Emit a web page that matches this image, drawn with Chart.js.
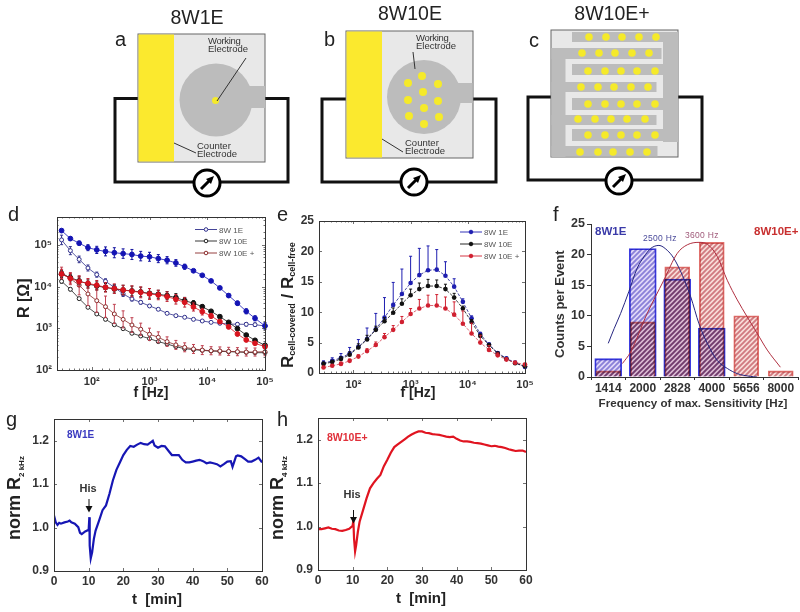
<!DOCTYPE html>
<html>
<head>
<meta charset="utf-8">
<script src="https://cdn.jsdelivr.net/npm/chart.js@4"></script>
<style>
    html, body { margin: 0; padding: 0; background: #fff; }
    #page { position: relative; width: 800px; height: 612px; overflow: hidden; filter: blur(0.3px); }
    #page canvas { position: absolute; }
    #overlay { position: absolute; left: 0; top: 0; pointer-events: none; font-family: "Liberation Sans", Arial, sans-serif; }
</style>
</head>
<body>
<div id="page">
    <canvas id="chartD"></canvas>
    <canvas id="chartE"></canvas>
    <canvas id="chartF"></canvas>
    <canvas id="chartG"></canvas>
    <canvas id="chartH"></canvas>
    <svg id="overlay" width="800" height="612" viewBox="0 0 800 612">
        <defs>
            <g id="meter">
                <circle r="13" fill="#fff" stroke="#000" stroke-width="3"/>
                <line x1="-6" y1="6" x2="3" y2="-3" stroke="#000" stroke-width="3"/>
                <path d="M7,-7 L-1,-4 L4,1 Z" fill="#000"/>
            </g>
        </defs>

        <!-- electrode a -->
        <text x="197" y="24" font-size="19.5" text-anchor="middle" fill="#222">8W1E</text>
        <text x="115" y="46" font-size="20" fill="#222">a</text>
        <path d="M138,98.5 H115 V182 H288 V98.5 H265" fill="none" stroke="#111" stroke-width="3"/>
        <rect x="138" y="34" width="127" height="128" fill="#e8e8e8" stroke="#666"/>
        <rect x="138.5" y="34.5" width="35.5" height="127" fill="#fbe92e"/>
        <circle cx="216" cy="100" r="36.5" fill="#bcbcbc"/>
        <rect x="249" y="86" width="16" height="22" fill="#bcbcbc"/>
        <circle cx="215.5" cy="100.5" r="3.5" fill="#f5ea2a"/>
        <line x1="246" y1="58" x2="217" y2="101" stroke="#333"/>
        <line x1="174" y1="143" x2="196" y2="153" stroke="#333"/>
        <text x="208" y="44" font-size="9.5" fill="#333" letter-spacing="-0.3">Working</text>
        <text x="208" y="52" font-size="9.5" fill="#333">Electrode</text>
        <text x="197" y="149" font-size="9.5" fill="#333">Counter</text>
        <text x="197" y="157" font-size="9.5" fill="#333">Electrode</text>
        <use href="#meter" x="207" y="183"/>

        <!-- electrode b -->
        <text x="410" y="20" font-size="19.5" text-anchor="middle" fill="#222">8W10E</text>
        <text x="324" y="46" font-size="20" fill="#222">b</text>
        <path d="M346,99 H322 V182 H496 V99 H473" fill="none" stroke="#111" stroke-width="3"/>
        <rect x="346" y="31" width="127" height="127" fill="#e8e8e8" stroke="#666"/>
        <rect x="346.5" y="31.5" width="35.5" height="126" fill="#fbe92e"/>
        <circle cx="424" cy="97" r="37" fill="#bcbcbc"/>
        <rect x="456" y="83" width="16.5" height="20" fill="#bcbcbc"/>
        <g id="dotsB" fill="#f5ea2a"></g>
        <line x1="413" y1="52" x2="415" y2="69" stroke="#333"/>
        <line x1="382" y1="139" x2="403" y2="152" stroke="#333"/>
        <text x="416" y="41" font-size="9.5" fill="#333" letter-spacing="-0.3">Working</text>
        <text x="416" y="49" font-size="9.5" fill="#333">Electrode</text>
        <text x="405" y="146" font-size="9.5" fill="#333">Counter</text>
        <text x="405" y="154" font-size="9.5" fill="#333">Electrode</text>
        <use href="#meter" x="414" y="182"/>

        <!-- electrode c -->
        <text x="612" y="20" font-size="19.5" text-anchor="middle" fill="#222">8W10E+</text>
        <text x="529" y="47" font-size="20" fill="#222">c</text>
        <path d="M551,97 H528 V180 H702 V97 H678" fill="none" stroke="#111" stroke-width="3"/>
        <rect x="551" y="30" width="127" height="127" fill="#e8e8e8" stroke="#666"/>
        <g id="combC" fill="#bcbcbc"></g>
        <g id="dotsC" fill="#f5ea2a"></g>
        <use href="#meter" x="619" y="181"/>

        <!-- panel letters and axis titles -->
        <text x="8" y="221" font-size="20" fill="#222">d</text>
        <text x="277" y="221" font-size="20" fill="#222">e</text>
        <text x="553" y="221" font-size="20" fill="#222">f</text>
        <text x="6" y="426" font-size="20" fill="#222">g</text>
        <text x="277" y="426" font-size="20" fill="#222">h</text>

        <text transform="translate(29,318) rotate(-90)" font-size="16" font-weight="bold" fill="#222">R [Ω]</text>
        <text x="151" y="397" font-size="14" font-weight="bold" text-anchor="middle" fill="#222">f [Hz]</text>
        <text transform="translate(293,368) rotate(-90)" font-size="17" font-weight="bold" fill="#222">R<tspan font-size="9" dy="2">cell-covered</tspan><tspan font-size="17" dy="-2"> / R</tspan><tspan font-size="9" dy="2">cell-free</tspan></text>
        <text x="418" y="397" font-size="14" font-weight="bold" text-anchor="middle" fill="#222">f [Hz]</text>
        <text transform="translate(564,358) rotate(-90)" font-size="13" font-weight="bold" fill="#333">Counts per Event</text>
        <text x="693" y="407" font-size="11.6" font-weight="bold" text-anchor="middle" fill="#333">Frequency of max. Sensitivity [Hz]</text>
        <text transform="translate(20,540) rotate(-90)" font-size="18" font-weight="bold" fill="#222">norm R<tspan font-size="8" dy="4">2 kHz</tspan></text>
        <text x="157" y="604" font-size="15" font-weight="bold" text-anchor="middle" fill="#222" xml:space="preserve">t  [min]</text>
        <text transform="translate(283,540) rotate(-90)" font-size="18" font-weight="bold" fill="#222">norm R<tspan font-size="8" dy="4">4 kHz</tspan></text>
        <text x="421" y="603" font-size="15" font-weight="bold" text-anchor="middle" fill="#222" xml:space="preserve">t  [min]</text>

        <!-- legends -->
        <g id="legendD" font-size="8" fill="#555"></g>
        <g id="legendE" font-size="8" fill="#555"></g>

        <!-- annotations -->
        <text x="595" y="235" font-size="11.5" font-weight="bold" fill="#3a3aa8">8W1E</text>
        <text x="754" y="235" font-size="11.5" font-weight="bold" fill="#c83030">8W10E+</text>
        <text x="643" y="241" font-size="8.5" fill="#4a4a9a" letter-spacing="0.3">2500 Hz</text>
        <text x="685" y="238" font-size="8.5" fill="#a05a7a" letter-spacing="0.3">3600 Hz</text>
        <text x="67" y="438" font-size="10" font-weight="bold" fill="#3a3ac0">8W1E</text>
        <text x="327" y="441" font-size="10.5" font-weight="bold" fill="#e0303a">8W10E+</text>
        <text x="88" y="492" font-size="11" font-weight="bold" text-anchor="middle" fill="#333">His</text>
        <path d="M89,499 V508" stroke="#111" stroke-width="1"/>
        <path d="M85.5,506 H92.5 L89,512.5 Z" fill="#111"/>
        <text x="352" y="498" font-size="11" font-weight="bold" text-anchor="middle" fill="#333">His</text>
        <path d="M353.5,510 V519" stroke="#111" stroke-width="1"/>
        <path d="M350,517 H357 L353.5,523.5 Z" fill="#111"/>
    </svg>
</div>

<script>
// frequency grid shared by panels d and e
const freqs = [30, 42.6, 60.5, 85.9, 122, 173, 246, 349, 496, 704, 1000, 1420, 2016, 2863, 4065, 5772, 8196, 11640, 16530, 23470, 33320, 47320, 67190, 100000];

// panel d: R [ohm], filled = cell-covered, open = cell-free
const rBlueFilled = [221000, 142000, 110000, 86000, 76000, 70000, 65000, 62000, 59000, 54000, 52000, 47000, 43000, 37000, 30000, 24000, 18700, 13700, 9300, 6100, 4000, 2560, 1740, 1140];
const rBlueOpen = [132000, 73000, 45000, 28000, 19400, 13400, 9600, 6700, 5060, 4200, 3440, 2860, 2290, 2010, 1840, 1640, 1500, 1390, 1320, 1270, 1250, 1250, 1220, 1140];
const rBlackFilled = [20000, 16400, 13700, 11600, 10400, 9500, 8800, 8300, 7900, 7450, 6900, 6550, 6080, 5450, 4600, 4000, 3300, 2560, 1900, 1390, 980, 690, 515, 390];
const rBlackOpen = [13400, 8630, 5150, 3190, 2210, 1640, 1220, 980, 760, 655, 565, 480, 420, 363, 325, 308, 296, 286, 280, 275, 270, 265, 260, 260];
const rRedFilled = [20000, 15800, 13200, 12000, 10800, 9640, 8950, 8300, 7730, 7300, 6670, 6300, 5750, 4960, 4200, 3250, 2510, 1980, 1450, 1080, 730, 525, 437, 363];
const rRedOpen = [21700, 15600, 10800, 6670, 4600, 3300, 2210, 1640, 1200, 950, 720, 610, 480, 400, 350, 320, 300, 290, 286, 280, 275, 270, 270, 275];

// multiplicative error factors for panel d
const errBlueFilled = [1.08, 1.1, 1.12, 1.18, 1.22, 1.28, 1.32, 1.3, 1.32, 1.3, 1.28, 1.25, 1.22, 1.2, 1.15, 1.08, 1.05, 1.05, 1.05, 1.1, 1.12, 1.15, 1.15, 1.2];
const errBlueOpen = [1.3, 1.25, 1.2, 1.18, 1.15, 1.15, 1.15, 1.15, 1.12, 1.1, 1.08, 1.06, 1.05, 1.05, 1.05, 1.05, 1.05, 1.05, 1.05, 1.08, 1.1, 1.1, 1.1, 1.1];
const errBlackFilled = [1.2, 1.2, 1.25, 1.25, 1.25, 1.25, 1.25, 1.3, 1.3, 1.3, 1.3, 1.25, 1.25, 1.25, 1.2, 1.15, 1.1, 1.05, 1.05, 1.05, 1.05, 1.05, 1.05, 1.05];
const errBlackOpen = [1.1, 1.08, 1.06, 1.05, 1.05, 1.05, 1.05, 1.05, 1.05, 1.05, 1.05, 1.05, 1.05, 1.05, 1.05, 1.05, 1.05, 1.05, 1.05, 1.05, 1.05, 1.05, 1.05, 1.05];
const errRedFilled = [1.3, 1.3, 1.3, 1.3, 1.3, 1.3, 1.3, 1.3, 1.35, 1.35, 1.35, 1.3, 1.3, 1.3, 1.3, 1.25, 1.2, 1.15, 1.12, 1.1, 1.1, 1.08, 1.08, 1.08];
const errRedOpen = [1.35, 1.4, 1.7, 1.9, 1.9, 1.8, 1.7, 1.6, 1.5, 1.4, 1.4, 1.35, 1.3, 1.28, 1.28, 1.28, 1.28, 1.25, 1.25, 1.25, 1.25, 1.25, 1.25, 1.25];

// panel e: ratio of cell-covered to cell-free
const ratioBlue = [1.6, 2.0, 2.5, 3.2, 4.3, 5.6, 7.2, 9.1, 11.2, 13.0, 14.8, 16.1, 16.9, 17.0, 16.0, 14.2, 11.7, 9.0, 6.4, 4.7, 3.3, 2.4, 1.7, 1.0];
const ratioBlack = [1.5, 1.8, 2.3, 3.0, 4.2, 5.5, 7.1, 8.5, 9.9, 11.4, 12.8, 13.8, 14.3, 14.3, 13.8, 12.4, 10.6, 8.4, 6.1, 4.6, 3.2, 2.3, 1.6, 1.1];
const ratioRed = [0.9, 1.2, 1.5, 2.0, 2.7, 3.6, 4.6, 5.9, 7.1, 8.4, 9.7, 10.6, 11.1, 11.1, 10.6, 9.6, 8.1, 6.5, 5.0, 3.8, 2.9, 2.2, 1.7, 1.4];
const ratioErrBlue = [0.4, 0.5, 0.7, 1.0, 1.2, 1.8, 2.6, 3.3, 3.7, 4.1, 4.4, 4.4, 4.0, 3.3, 2.3, 1.3, 0.5, 0.4, 0.3, 0.2, 0.2, 0.2, 0.2, 0.2];
const ratioErrBlack = [0.3, 0.3, 0.4, 0.5, 0.6, 0.7, 0.6, 0.6, 0.8, 0.8, 1.0, 1.0, 1.1, 1.0, 0.8, 0.7, 0.4, 0.4, 0.3, 0.2, 0.2, 0.2, 0.2, 0.2];
const ratioErrRed = [0.2, 0.2, 0.3, 0.3, 0.3, 0.4, 0.5, 0.6, 0.7, 0.9, 0.9, 1.5, 1.7, 1.8, 1.9, 2.1, 2.1, 1.7, 1.2, 0.7, 0.4, 0.3, 0.2, 0.2];

// panel f: histogram and fitted curves (x in category positions)
const binLabels = ["1414", "2000", "2828", "4000", "5656", "8000"];
const countsBlue = [3, 21, 16, 8, 0, 0];
const countsRed = [1, 9, 18, 22, 10, 1];
const fitBlueX = [0, 0.17, 0.36, 0.6, 0.84, 1.03, 1.23, 1.47, 1.71, 1.9, 2.15, 2.39, 2.63, 2.87, 3.16, 3.45, 3.74, 4.12, 4.31];
const fitBlueY = [5.5, 7.9, 10.4, 14, 17.8, 19.6, 21, 21.5, 20.7, 19.4, 16.6, 13.1, 8.7, 5.5, 2.7, 1.4, 0.55, 0.1, 0];
const fitRedX = [0.41, 0.65, 1.13, 1.61, 2.0, 2.29, 2.63, 2.87, 3.16, 3.45, 3.74, 4.03, 4.32, 4.61, 4.99];
const fitRedY = [2.2, 4.1, 10.4, 15.8, 20.2, 21.6, 22, 21.7, 19.7, 15.8, 12.6, 9.8, 7.1, 4.4, 1.6];

// panel g: norm R at 2 kHz
const timeG = [0, 0.5, 1, 1.5, 2, 3, 4, 4.5, 5, 6, 7, 7.5, 8, 9, 10, 10.2, 10.3, 10.6, 11, 11.5, 12, 13, 14, 15, 16, 17, 18, 19, 20, 21, 22, 23, 24, 25, 26, 27, 28, 28.5, 29, 30, 31, 32, 33, 34, 35, 36, 37, 38, 39, 40, 41, 42, 43, 44, 45, 46, 47, 48, 49, 50, 51, 51.5, 52, 52.5, 53, 54, 55, 56, 57, 58, 59, 60];
const normG = [1.028, 1.012, 1.006, 1.011, 1.009, 1.012, 1.014, 1.016, 1.012, 1.009, 1.001, 0.988, 0.985, 0.991, 0.995, 1.024, 0.958, 0.929, 0.943, 0.974, 0.993, 1.016, 1.04, 1.051, 1.078, 1.109, 1.133, 1.15, 1.167, 1.179, 1.188, 1.186, 1.191, 1.195, 1.192, 1.191, 1.197, 1.2, 1.189, 1.184, 1.188, 1.187, 1.177, 1.167, 1.167, 1.167, 1.156, 1.15, 1.15, 1.152, 1.154, 1.156, 1.153, 1.148, 1.15, 1.148, 1.146, 1.141, 1.146, 1.152, 1.153, 1.14, 1.152, 1.164, 1.166, 1.164, 1.158, 1.152, 1.152, 1.156, 1.161, 1.15];

// panel h: norm R at 4 kHz
const timeH = [0, 1, 2, 3, 4, 5, 6, 7, 8, 9, 10, 10.2, 10.4, 10.7, 11, 11.5, 12, 13, 14, 15, 16, 17, 18, 19, 20, 21, 22, 23, 24, 25, 26, 27, 28, 29, 30, 31, 32, 33, 34, 35, 36, 37, 38, 39, 40, 41, 42, 43, 44, 45, 46, 47, 48, 49, 50, 51, 52, 53, 54, 55, 56, 57, 58, 59, 60];
const normH = [0.994, 0.994, 0.996, 0.998, 0.995, 0.994, 0.991, 0.99, 0.992, 0.995, 1.002, 1.015, 0.972, 0.943, 0.957, 0.988, 1.011, 1.038, 1.065, 1.088, 1.1, 1.11, 1.119, 1.139, 1.154, 1.17, 1.183, 1.189, 1.195, 1.201, 1.207, 1.212, 1.216, 1.219, 1.219, 1.216, 1.215, 1.213, 1.212, 1.211, 1.209, 1.207, 1.206, 1.207, 1.202, 1.198, 1.196, 1.196, 1.195, 1.193, 1.192, 1.191, 1.189, 1.187, 1.185, 1.186, 1.184, 1.183, 1.181, 1.178, 1.176, 1.174, 1.175, 1.175, 1.172];

const tickFont = { family: "'Liberation Sans', Arial, sans-serif", size: 11, weight: "bold" };
const tickColor = "#333";

function toPoints(xs, ys) {
    return xs.map((x, i) => ({ x: x, y: ys[i] }));
}

function logLabel(value) {
    const labels = { 100: "10²", 1000: "10³", 10000: "10⁴", 100000: "10⁵" };
    return labels[value] || "";
}

// places a chart so its plot area lands exactly on box (page pixels)
function makeChart(id, box, config) {
    const ml = 44, mr = 16, mt = 10, mb = 26;
    const canvas = document.getElementById(id);
    canvas.width = box.r - box.l + ml + mr;
    canvas.height = box.b - box.t + mt + mb;
    canvas.style.left = (box.l - ml) + "px";
    canvas.style.top = (box.t - mt) + "px";

    config.options.responsive = false;
    config.options.animation = false;
    config.options.layout = { padding: { left: 0, right: mr, top: mt, bottom: 0 } };
    config.options.plugins = Object.assign({ legend: { display: false }, tooltip: { enabled: false } }, config.options.plugins);

    Object.values(config.options.scales).forEach(scale => {
        if (scale.display === false) return;
        scale.afterFit = s => {
            s.paddingLeft = s.paddingRight = s.paddingTop = s.paddingBottom = 0;
            if (s.axis === "y") s.width = ml;
            if (s.axis === "x") s.height = mb;
        };
    });
    return new Chart(canvas, config);
}

// frame and short inward ticks on all four sides
const frameTicks = {
    id: "frameTicks",
    afterDraw(chart) {
        const ctx = chart.ctx;
        const a = chart.chartArea;
        ctx.save();
        ctx.strokeStyle = "#333";
        ctx.lineWidth = 1;
        ctx.strokeRect(a.left + 0.5, a.top + 0.5, a.right - a.left, a.bottom - a.top);
        ctx.lineWidth = 0.7;
        const isMajor = (scale, v) => scale.type === "logarithmic" ? Number.isInteger(Math.log10(v)) : true;
        chart.scales.x.ticks.forEach(t => {
            const px = Math.round(chart.scales.x.getPixelForValue(t.value)) + 0.5;
            const len = isMajor(chart.scales.x, t.value) ? 3 : 1.5;
            ctx.beginPath();
            ctx.moveTo(px, a.bottom); ctx.lineTo(px, a.bottom - len);
            ctx.moveTo(px, a.top); ctx.lineTo(px, a.top + len);
            ctx.stroke();
        });
        chart.scales.y.ticks.forEach(t => {
            const py = Math.round(chart.scales.y.getPixelForValue(t.value)) + 0.5;
            const len = isMajor(chart.scales.y, t.value) ? 3 : 1.5;
            ctx.beginPath();
            ctx.moveTo(a.left, py); ctx.lineTo(a.left + len, py);
            ctx.moveTo(a.right, py); ctx.lineTo(a.right - len, py);
            ctx.stroke();
        });
        ctx.restore();
    }
};

// error bars read from dataset.errHi / dataset.errLo, placed through the y scale
const errorBars = {
    id: "errorBars",
    beforeDatasetDraw(chart, args) {
        const ds = chart.data.datasets[args.index];
        if (!ds.errHi) return;
        const ctx = chart.ctx;
        const y = chart.scales.y;
        ctx.save();
        ctx.strokeStyle = ds.errColor;
        ctx.lineWidth = 1;
        args.meta.data.forEach((pt, i) => {
            const top = y.getPixelForValue(ds.errHi[i]);
            const bottom = ds.errLo ? y.getPixelForValue(ds.errLo[i]) : pt.y;
            ctx.beginPath();
            ctx.moveTo(pt.x, top); ctx.lineTo(pt.x, bottom);
            ctx.moveTo(pt.x - 1.5, top); ctx.lineTo(pt.x + 1.5, top);
            if (ds.errLo) { ctx.moveTo(pt.x - 1.5, bottom); ctx.lineTo(pt.x + 1.5, bottom); }
            ctx.stroke();
        });
        ctx.restore();
    }
};

function impedanceSet(values, errs, color, errColor, open) {
    return {
        data: toPoints(freqs, values),
        errHi: values.map((v, i) => v * errs[i]),
        errLo: values.map((v, i) => v / errs[i]),
        errColor: errColor,
        borderColor: color,
        borderWidth: 0.8,
        pointRadius: open ? 2 : 2.4,
        pointBorderWidth: 1,
        pointBorderColor: color,
        pointBackgroundColor: open ? "#fff" : color,
        clip: false
    };
}

function ratioSet(values, errs, color, lineColor) {
    return {
        data: toPoints(freqs, values),
        errHi: values.map((v, i) => v + errs[i]),
        errColor: color,
        borderColor: lineColor,
        borderWidth: 0.8,
        borderDash: [3, 1.5],
        pointRadius: 2.3,
        pointBorderWidth: 0,
        pointBackgroundColor: color,
        clip: false
    };
}

function logAxis(min, max) {
    return {
        type: "logarithmic",
        min: min,
        max: max,
        grid: { display: false, drawTicks: false },
        border: { display: false },
        ticks: { autoSkip: false, maxRotation: 0, padding: 5, font: tickFont, color: tickColor, callback: logLabel }
    };
}

makeChart("chartD", { l: 57, r: 265, t: 217, b: 370 }, {
    type: "line",
    data: {
        datasets: [
            impedanceSet(rRedFilled, errRedFilled, "#d8141e", "#c02030", false),
            impedanceSet(rBlackFilled, errBlackFilled, "#111", "#222", false),
            impedanceSet(rRedOpen, errRedOpen, "#8a2a2a", "#c04050", true),
            impedanceSet(rBlackOpen, errBlackOpen, "#222", "#333", true),
            impedanceSet(rBlueFilled, errBlueFilled, "#1414b4", "#1414a0", false),
            impedanceSet(rBlueOpen, errBlueOpen, "#30308c", "#30308c", true)
        ]
    },
    options: {
        scales: {
            x: logAxis(25, 100000),
            y: logAxis(100, 468000)
        }
    },
    plugins: [frameTicks, errorBars]
});

makeChart("chartE", { l: 319, r: 525, t: 221, b: 373 }, {
    type: "line",
    data: {
        datasets: [
            ratioSet(ratioRed, ratioErrRed, "#d02030", "#d04050"),
            ratioSet(ratioBlack, ratioErrBlack, "#111", "#111"),
            ratioSet(ratioBlue, ratioErrBlue, "#1e1eb0", "#1e1e90")
        ]
    },
    options: {
        scales: {
            x: logAxis(25, 100000),
            y: {
                min: 0,
                max: 25,
                grid: { display: false, drawTicks: false },
                border: { display: false },
                ticks: { stepSize: 5, padding: 5, font: { family: tickFont.family, size: 12, weight: "bold" }, color: tickColor }
            }
        }
    },
    plugins: [frameTicks, errorBars]
});

// diagonal hatch used as bar fill
function hatch(base, stripe) {
    const tile = document.createElement("canvas");
    tile.width = tile.height = 5;
    const c = tile.getContext("2d");
    c.fillStyle = base;
    c.fillRect(0, 0, 5, 5);
    c.strokeStyle = stripe;
    c.lineWidth = 1.9;
    c.beginPath();
    c.moveTo(-1, 6); c.lineTo(6, -1);
    c.moveTo(-1, 1); c.lineTo(1, -1);
    c.moveTo(4, 6); c.lineTo(6, 4);
    c.stroke();
    return document.createElement("canvas").getContext("2d").createPattern(tile, "repeat");
}

// overlapping bars darken each other
const multiplyBars = {
    id: "multiplyBars",
    beforeDatasetDraw(chart, args) {
        if (args.meta.type === "bar") chart.ctx.globalCompositeOperation = "multiply";
    },
    afterDatasetDraw(chart) {
        chart.ctx.globalCompositeOperation = "source-over";
    }
};

makeChart("chartF", { l: 591, r: 798, t: 224, b: 377 }, {
    type: "bar",
    data: {
        labels: binLabels,
        datasets: [
            { type: "line", data: toPoints(fitRedX, fitRedY), xAxisID: "x2", borderColor: "#b03040", borderWidth: 1, pointRadius: 0, cubicInterpolationMode: "monotone" },
            { type: "line", data: toPoints(fitBlueX, fitBlueY), xAxisID: "x2", borderColor: "#262680", borderWidth: 1, pointRadius: 0, cubicInterpolationMode: "monotone" },
            { data: countsRed, backgroundColor: hatch("#f8dcd8", "#d07a80"), borderColor: "#e0706c", borderWidth: 1.2, barThickness: 25, grouped: false },
            { data: countsBlue, backgroundColor: hatch("#e0d8f8", "#8a80d8"), borderColor: "#3c3ce0", borderWidth: 1.2, barThickness: 27, grouped: false }
        ]
    },
    options: {
        scales: {
            x: {
                grid: { drawOnChartArea: false, tickLength: 3, color: "#333" },
                border: { color: "#333" },
                ticks: { padding: 1, font: { family: tickFont.family, size: 12, weight: "bold" }, color: tickColor }
            },
            x2: { type: "linear", min: -0.5, max: 5.5, offset: false, display: false },
            y: {
                min: 0,
                max: 25,
                grid: { drawOnChartArea: false, tickLength: 4, color: "#333" },
                border: { color: "#333" },
                ticks: { stepSize: 5, padding: 2, font: { family: tickFont.family, size: 12.5, weight: "bold" }, color: tickColor }
            }
        }
    },
    plugins: [multiplyBars]
});

function timeAxis() {
    return {
        type: "linear",
        min: 0,
        max: 60,
        grid: { display: false, drawTicks: false },
        border: { display: false },
        ticks: { stepSize: 10, padding: 3, maxRotation: 0, font: { family: tickFont.family, size: 12, weight: "bold" }, color: tickColor }
    };
}

function normAxis() {
    return {
        min: 0.9,
        max: 1.25,
        grid: { display: false, drawTicks: false },
        border: { display: false },
        afterBuildTicks: s => { s.ticks = s.ticks.filter(t => t.value <= 1.2); },
        ticks: { stepSize: 0.1, padding: 5, font: { family: tickFont.family, size: 12, weight: "bold" }, color: tickColor, callback: v => v.toFixed(1) }
    };
}

makeChart("chartG", { l: 54, r: 262, t: 419, b: 571 }, {
    type: "line",
    data: { datasets: [{ data: toPoints(timeG, normG), borderColor: "#1616b4", borderWidth: 2.2, pointRadius: 0, tension: 0 }] },
    options: { scales: { x: timeAxis(), y: normAxis() } },
    plugins: [frameTicks]
});

makeChart("chartH", { l: 318, r: 526, t: 418, b: 570 }, {
    type: "line",
    data: { datasets: [{ data: toPoints(timeH, normH), borderColor: "#e01420", borderWidth: 2.2, pointRadius: 0, tension: 0 }] },
    options: { scales: { x: timeAxis(), y: normAxis() } },
    plugins: [frameTicks]
});

// --- schematic details and legends in the overlay ---
const SVGNS = "http://www.w3.org/2000/svg";

function addDot(group, x, y, r) {
    const dot = document.createElementNS(SVGNS, "circle");
    dot.setAttribute("cx", x);
    dot.setAttribute("cy", y);
    dot.setAttribute("r", r);
    group.appendChild(dot);
}

const dotsB = document.getElementById("dotsB");
[[422, 76], [408, 83], [438, 84], [423, 92], [408, 100], [438, 101], [424, 108], [409, 116], [439, 117], [424, 124]]
    .forEach(p => addDot(dotsB, p[0], p[1], 4));

const combC = document.getElementById("combC");
[[572, 32, 106, 10], [663, 32, 15, 110], [572, 64, 92, 11], [572, 98, 92, 12], [572, 129, 106, 12],
 [551.5, 48, 14, 109], [551.5, 48, 110, 11], [551.5, 82, 105, 10], [551.5, 115, 105, 10], [551.5, 146, 106, 10.5]]
    .forEach(r => {
        const el = document.createElementNS(SVGNS, "rect");
        el.setAttribute("x", r[0]);
        el.setAttribute("y", r[1]);
        el.setAttribute("width", r[2]);
        el.setAttribute("height", r[3]);
        combC.appendChild(el);
    });

const dotsC = document.getElementById("dotsC");
[[37, [589, 606, 622, 639, 656]], [53, [582, 599, 615, 632, 649]], [71, [588, 605, 621, 637, 655]], [87, [581, 598, 614, 631, 648]],
 [104, [588, 605, 621, 637, 655]], [119, [578, 595, 611, 627, 645]], [135, [588, 605, 621, 637, 655]], [152, [580, 598, 613, 630, 647]]]
    .forEach(row => row[1].forEach(x => addDot(dotsC, x, row[0], 3.8)));

function addLegend(groupId, x, rows) {
    const group = document.getElementById(groupId);
    rows.forEach(row => {
        const line = document.createElementNS(SVGNS, "line");
        line.setAttribute("x1", x);
        line.setAttribute("x2", x + 22);
        line.setAttribute("y1", row.y);
        line.setAttribute("y2", row.y);
        line.setAttribute("stroke", row.color);
        line.setAttribute("stroke-width", "0.9");
        group.appendChild(line);
        const dot = document.createElementNS(SVGNS, "circle");
        dot.setAttribute("cx", x + 11);
        dot.setAttribute("cy", row.y);
        dot.setAttribute("r", 1.8);
        dot.setAttribute("fill", row.open ? "#fff" : row.color);
        dot.setAttribute("stroke", row.color);
        group.appendChild(dot);
        const label = document.createElementNS(SVGNS, "text");
        label.setAttribute("x", x + 24);
        label.setAttribute("y", row.y + 3);
        label.textContent = row.text;
        group.appendChild(label);
    });
}

addLegend("legendD", 195, [
    { y: 229.5, color: "#30308c", open: true, text: "8W 1E" },
    { y: 241, color: "#222", open: true, text: "8W 10E" },
    { y: 253, color: "#8a2a2a", open: true, text: "8W 10E +" }
]);
addLegend("legendE", 460, [
    { y: 232, color: "#1e1eb0", open: false, text: "8W 1E" },
    { y: 244, color: "#111", open: false, text: "8W 10E" },
    { y: 256, color: "#d02030", open: false, text: "8W 10E +" }
]);
</script>
</body>
</html>
